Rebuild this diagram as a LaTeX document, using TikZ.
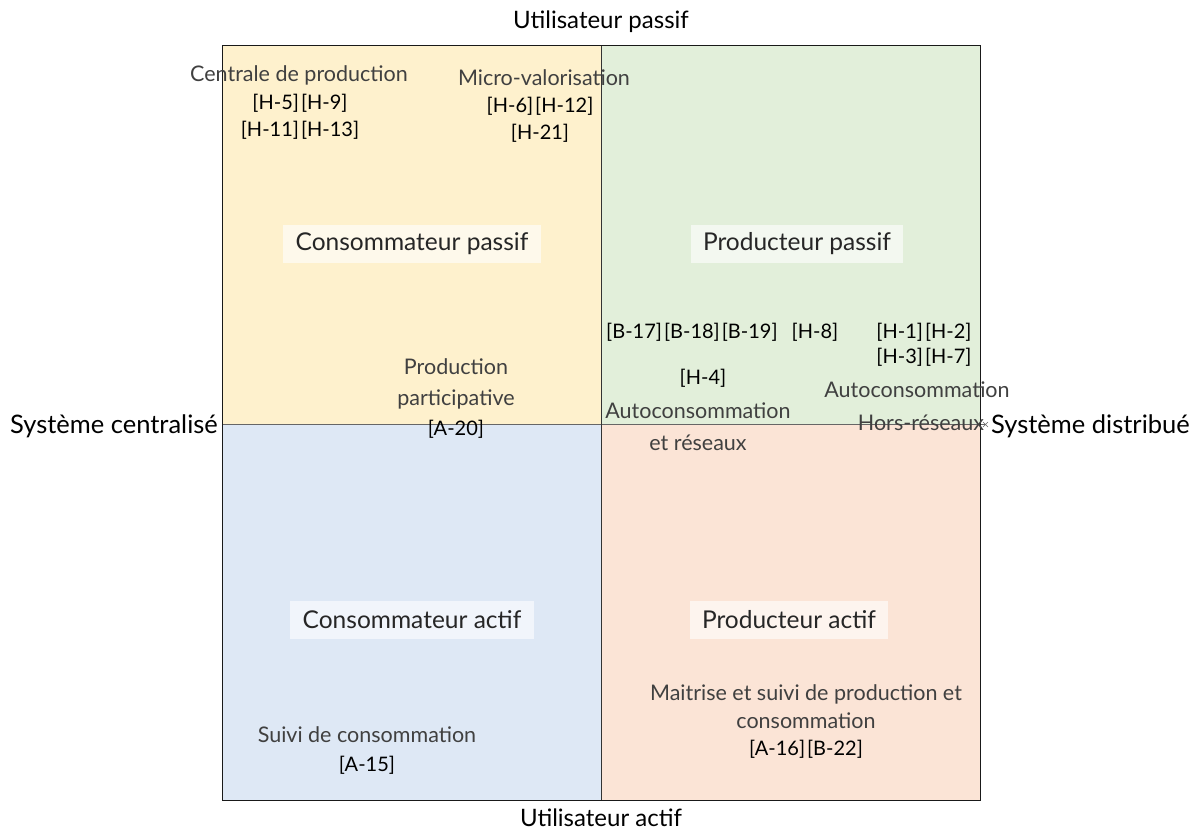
\documentclass[tikz,border=0pt]{standalone}
\usepackage{fontspec}
\setmainfont{Lato}
\usetikzlibrary{positioning}
\definecolor{quadyellow}{HTML}{FEF1CD}
\definecolor{quadgreen}{HTML}{E2EFDA}
\definecolor{quadblue}{HTML}{DEE8F5}
\definecolor{quadpeach}{HTML}{FBE4D6}
\definecolor{textgray}{HTML}{404040}
\tikzset{
  axislabel/.style={font=\fontsize{24}{28}\selectfont,text=black,inner sep=1pt},
  sidelabel/.style={axislabel,font=\fontsize{25.5}{28}\selectfont},
  rolebox/.style={fill=white,fill opacity=0.6,text opacity=1,font=\fontsize{24.5}{28}\selectfont,
    text=black!85,inner xsep=12.5pt,inner ysep=0pt,minimum height=38pt},
  caselabel/.style={font=\fontsize{21.5}{31}\selectfont,text=textgray,align=center,inner sep=0pt},
  refs/.style={font=\fontsize{20}{26.5}\selectfont,text=black,align=center,inner sep=0pt}
}
\newcommand{\refgap}{\hspace{2pt}}
\newcommand{\nl}{\\\relax}
\begin{document}
\begin{tikzpicture}[x=1pt,y=-1pt]
\useasboundingbox (0,0) rectangle (1195,836);

\fill[quadyellow] (222,45) rectangle (601,424);
\fill[quadgreen] (601,45) rectangle (980,424);
\fill[quadblue] (222,424) rectangle (601,800);
\fill[quadpeach] (601,424) rectangle (980,800);
\draw[black!60] (222,424) -- (985,424);
\draw[black!60] (983,422) -- (988,427) (983,427) -- (988,422);
\draw[black!80] (601,45) -- (601,800);
\draw[black!90] (222,45) rectangle (980,800);

\node[axislabel] (top) at (601,22) {Utilisateur passif};
\node[axislabel] (bottom) at (601,818) {Utilisateur actif};
\node[sidelabel,anchor=east] (left) at (219,426) {Système centralisé};
\node[sidelabel,anchor=west] (right) at (990,426) {Système distribué};

\node[rolebox] (conspassif) at (412,244) {Consommateur passif};
\node[rolebox] (prodpassif) at (797,244) {Producteur passif};
\node[rolebox] (consactif) at (412,620) {Consommateur actif};
\node[rolebox] (prodactif) at (789,620) {Producteur actif};

\node[caselabel] (centrale) at (299,75) {Centrale de production};
\node[refs] (centraleref) at (300,117) {[H-5]\refgap[H-9]\nl[H-11]\refgap[H-13]};
\node[caselabel] (micro) at (544,78) {Micro-valorisation};
\node[refs] (microref) at (540,120) {[H-6]\refgap[H-12]\nl[H-21]};

\node[caselabel] (particip) at (456,384) {Production\\participative};
\node[refs] (participref) at (456,429) {[A-20]};

\node[refs,anchor=west] (bref) at (606,332) {[B-17]\refgap[B-18]\refgap[B-19]\hspace{14pt}[H-8]};
\node[refs] (hrefa) at (924,344.5) {[H-1]\refgap[H-2]\\[-1.5pt][H-3]\refgap[H-7]};
\node[refs] (hfour) at (703,378) {[H-4]};
\node[caselabel] (autores) at (698,427) {Autoconsommation\\[1pt]et réseaux};
\node[caselabel] (autohors) at (917,406.5) {Autoconsommation\\[2pt]\hspace*{8pt}Hors-réseaux};

\node[caselabel] (suivi) at (367,735) {Suivi de consommation};
\node[refs] (suiviref) at (367,765) {[A-15]};
\node[caselabel] (maitrise) at (806,707) {Maitrise et suivi de production et\\[-3pt]consommation};
\node[refs] (maitriseref) at (806,749) {[A-16]\refgap[B-22]};
\end{tikzpicture}
\end{document}
